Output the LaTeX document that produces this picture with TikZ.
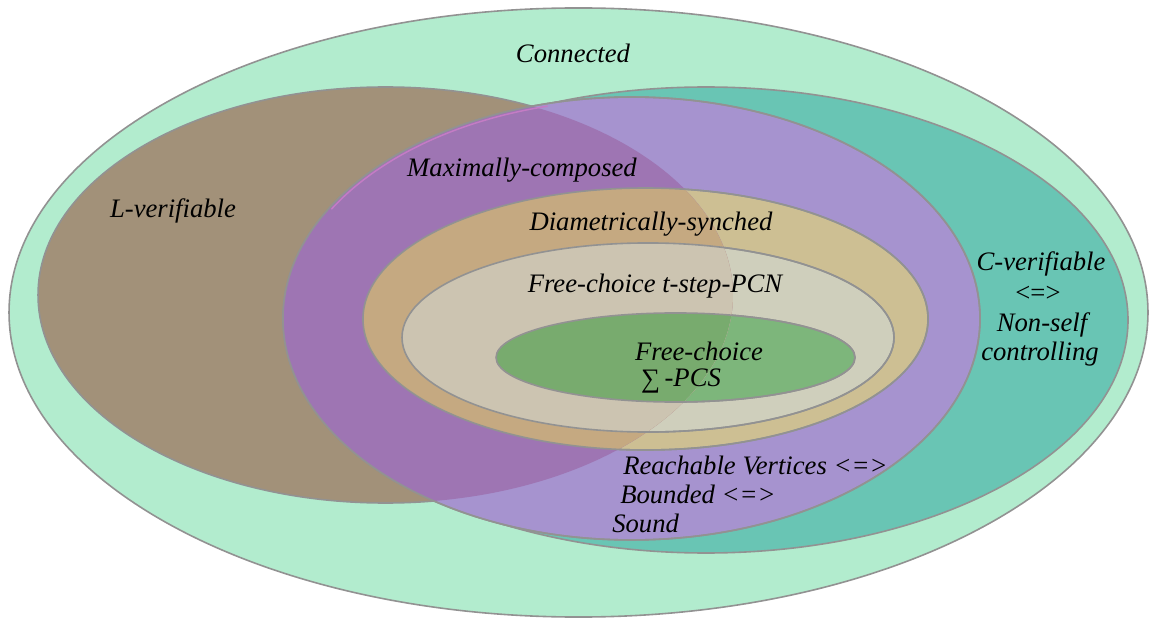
\documentclass[tikz,border=0pt]{standalone}
\usepackage{fontspec}
\setmainfont{Liberation Serif}
\definecolor{edgegray}{HTML}{929292}
\definecolor{edgepink}{HTML}{C47CC4}
\definecolor{connfill}{HTML}{B2ECCE}
\definecolor{cverfill}{HTML}{69C5B4}
\definecolor{lverfill}{HTML}{A29179}
\definecolor{maxfill}{HTML}{A693CF}
\definecolor{maxfillL}{HTML}{9E75B3}
\definecolor{diafill}{HTML}{CDBF93}
\definecolor{diafillL}{HTML}{C5A981}
\definecolor{pcnfill}{HTML}{CFCFBC}
\definecolor{pcnfillL}{HTML}{CCC4B1}
\definecolor{pcsfill}{HTML}{7DB67B}
\definecolor{pcsfillL}{HTML}{78AB6E}
\begin{document}
\begin{tikzpicture}[x=0.75pt,y=-0.75pt,
  region/.style={draw=edgegray, line width=1.2pt},
  setlabel/.style={font=\fontsize{20}{24}\selectfont\itshape, inner sep=0pt, text=black}]
\useasboundingbox (0,0) rectangle (1149,620);

% set outlines
\def\ellConn{(578.5,312.5) ellipse [x radius=427.1pt, y radius=228.4pt]}
\def\ellCver{(706,320) ellipse [x radius=316.5pt, y radius=174.75pt]}
\def\ellLver{(385.5,295) ellipse [x radius=260.6pt, y radius=156pt]}
\def\ellMax{(631.5,318.5) ellipse [x radius=261.4pt, y radius=166.1pt]}
\def\ellDia{(645.5,319) ellipse [x radius=211.9pt, y radius=98.25pt]}
\def\ellPcn{(648,337.5) ellipse [x radius=184.5pt, y radius=70.9pt]}
\def\ellPcs{(675.5,357.5) ellipse [x radius=134.6pt, y radius=33.4pt]}

% nested regions
\filldraw[region, fill=connfill] \ellConn;
\filldraw[region, fill=lverfill] \ellLver;
\filldraw[region, fill=cverfill] \ellCver;
\filldraw[region, fill=maxfill] \ellMax;
\filldraw[region, fill=diafill] \ellDia;
\filldraw[region, fill=pcnfill] \ellPcn;
\filldraw[region, fill=pcsfill] \ellPcs;

% the part lying inside L-verifiable is tinted
\begin{scope}
  \clip \ellLver;
  \fill[maxfillL] \ellMax;
  \fill[diafillL] \ellDia;
  \fill[pcnfillL] \ellPcn;
  \fill[pcsfillL] \ellPcs;
\end{scope}
\draw[region] \ellMax;
\draw[region] \ellDia;
\draw[region] \ellPcn;
\draw[region] \ellPcs;

% pinkish seam where the L-verifiable rim meets Maximally-composed
\coordinate (seam) at (547.6,106.2);
\draw[edgepink, line width=1.1pt] (seam)
  arc [start angle=104, end angle=150, x radius=259.8pt, y radius=164.3pt];

% labels
\node[setlabel] (conn) at (573,53) {Connected};
\node[setlabel] (lver) at (173,211) {L-verifiable};
\node[setlabel] (max) at (522,170) {Maximally-composed};
\node[setlabel] (dia) at (651,224) {Diametrically-synched};
\node[setlabel] (pcn) at (655,286) {Free-choice t-step-PCN};
\node[setlabel] (pcs1) at (699,351) {Free-choice};
\node[setlabel] (pcs2) at (681,381) {{\upshape\raisebox{-1pt}{∑}}\,-PCS};
\node[setlabel] (cver1) at (1041,264) {C-verifiable};
\node[setlabel] (cver2) at (1038,294) {{\upshape <=>}};
\node[setlabel] (cver3) at (1042,325) {Non-self};
\node[setlabel] (cver4) at (1040,354) {controlling};
\node[setlabel, anchor=west] (rv) at (623,465) {Reachable Vertices <=>};
\node[setlabel, anchor=west] (bd) at (620,494) {Bounded <=>};
\node[setlabel, anchor=west] (sd) at (612,523) {Sound};
\end{tikzpicture}
\end{document}
